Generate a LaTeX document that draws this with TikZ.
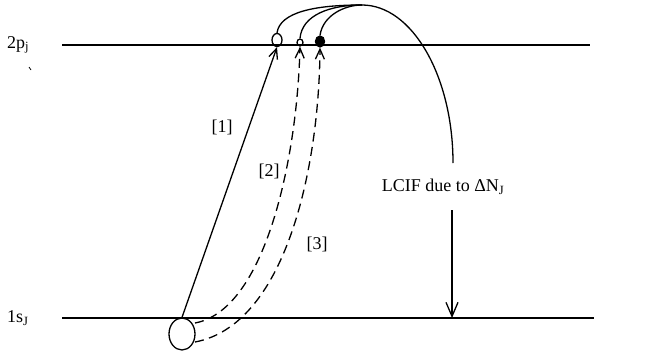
\documentclass[tikz,border=0pt]{standalone}
\usepackage{fontspec}
\setmainfont{Liberation Serif}
\usetikzlibrary{arrows.meta,shapes.geometric}
\begin{document}
\begin{tikzpicture}[x=1pt,y=-1pt,
 lvl/.style={line width=1.6pt},
 curve/.style={line width=1.3pt},
 trans/.style={line width=1.3pt,-{Straight Barb[length=10pt,width=9pt]}},
 dsh/.style={dash pattern=on 9pt off 5.5pt},
 lbl/.style={font=\fontsize{18}{21}\selectfont,inner sep=0pt},
 dot/.style={draw,ellipse,line width=1.3pt,inner sep=0pt}]
\useasboundingbox (0,0) rectangle (655,353);
% levels
\coordinate (pL) at (62,45); \coordinate (pR) at (590,45);
\coordinate (sL) at (62,318); \coordinate (sR) at (594,318);
\draw[lvl] (pL) -- (pR);
\draw[lvl] (sL) -- (sR);
\node[lbl,anchor=west] (t2p) at (7,45) {2p\textsubscript{j}};
\node[lbl,anchor=west] (t1s) at (7,318) {1s\textsubscript{J}};
\draw[line width=0.7pt] (29,67) -- (31,70);
% circles
\node[dot,minimum width=10pt,minimum height=13pt] (o1) at (277,40) {};
\node[dot,minimum width=6pt,minimum height=7pt] (o2) at (300,42.5) {};
\node[dot,fill=black,minimum width=9pt,minimum height=11pt] (o3) at (320,41.5) {};
\node[dot,minimum width=26pt,minimum height=32pt] (g) at (182,334) {};
% transitions
\coordinate (g2) at (195,323);
\coordinate (g3) at (195,342);
\draw[trans] (g.north) -- (o1.south);
\draw[trans,dsh] (g2) .. controls (265,310) and (297,160) .. (o2.south);
\draw[trans,dsh] (g3) .. controls (285,325) and (319,170) .. (o3.south);
% top arcs
\coordinate (m) at (362,5);
\coordinate (e) at (453,163);
\draw[curve] (o1.north) .. controls (280,12) and (315,5) .. (m);
\draw[curve] (o2.north) .. controls (302,15) and (330,5) .. (m);
\draw[curve] (o3.north) .. controls (323,15) and (345,5) .. (m);
\draw[curve] (m) .. controls (412,5) and (453,76) .. (e);
% LCIF
\node[lbl] (lc) at (443,187) {LCIF due to ΔN\textsubscript{J}};
\coordinate (a0) at (452,210); \coordinate (a1) at (452,318);
\draw[line width=1.3pt,-{Straight Barb[length=14pt,width=12pt]}] (a0) -- (a1);
% labels
\node[lbl] (l1) at (222,127) {[1]};
\node[lbl] (l2) at (269,171) {[2]};
\node[lbl] (l3) at (317,244) {[3]};
\end{tikzpicture}
\end{document}
